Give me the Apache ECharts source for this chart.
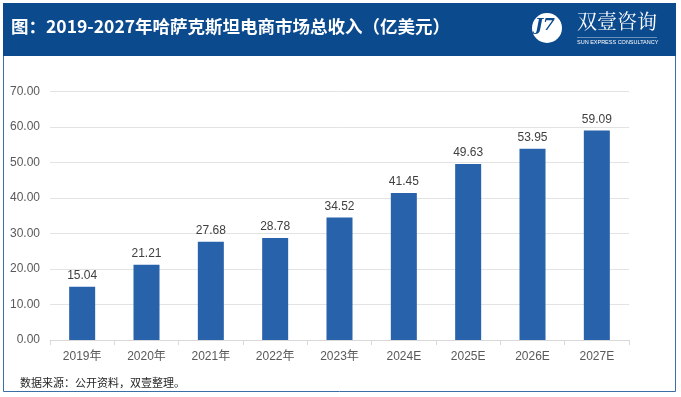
<!DOCTYPE html>
<html>
<head>
<meta charset="utf-8">
<script src="https://cdn.jsdelivr.net/npm/echarts@6/dist/echarts.min.js"></script>
<style>
  html, body { margin: 0; padding: 0; background: #fff; }
  #main { width: 681px; height: 397px; }
</style>
</head>
<body>
<div id="main"></div>
<script>
// 年份与收入（亿美元）
var years = ['2019年', '2020年', '2021年', '2022年', '2023年', '2024E', '2025E', '2026E', '2027E'];
var revenue = [15.04, 21.21, 27.68, 28.78, 34.52, 41.45, 49.63, 53.95, 59.09];

var chart = echarts.init(document.getElementById('main'));

var option = {
    animation: false,
    backgroundColor: '#fff',
    grid: {
        left: 50,
        right: 52,
        top: 91.7,
        bottom: 57
    },
    xAxis: {
        type: 'category',
        data: years,
        axisLine: { lineStyle: { color: '#d9d9d9' } },
        axisTick: { show: true, lineStyle: { color: '#d9d9d9' } },
        axisLabel: {
            color: '#595959',
            fontSize: 12,
            margin: 11,
            fontFamily: 'Liberation Sans, Noto Sans CJK SC'
        }
    },
    yAxis: {
        type: 'value',
        min: 0,
        max: 70,
        interval: 10,
        axisLine: { show: false },
        axisTick: { show: false },
        splitLine: { lineStyle: { color: '#e3e3e3' } },
        axisLabel: {
            color: '#595959',
            fontSize: 12,
            margin: 10,
            fontFamily: 'Liberation Sans',
            formatter: function (v) { return v.toFixed(2); }
        }
    },
    series: [
        {
            type: 'bar',
            data: revenue,
            barWidth: 26,
            itemStyle: { color: '#2762aa' },
            label: {
                show: true,
                position: 'top',
                distance: 5,
                color: '#404040',
                fontSize: 12,
                fontFamily: 'Liberation Sans',
                formatter: function (p) { return p.value.toFixed(2); }
            }
        }
    ],
    graphic: [
        // 外框
        {
            type: 'rect',
            shape: { x: 3.5, y: 3.5, width: 672, height: 388 },
            style: { fill: 'none', stroke: '#3b6ea5', lineWidth: 1 },
            z: 1
        },
        // 标题栏
        {
            type: 'rect',
            shape: { x: 3, y: 3, width: 673, height: 53 },
            style: { fill: '#0c4a8e' },
            z: 2
        },
        {
            type: 'text',
            left: 11,
            top: 18,
            style: {
                text: '图：2019-2027年哈萨克斯坦电商市场总收入（亿美元）',
                fill: '#fff',
                font: 'bold 17.5px "Noto Sans CJK SC"'
            },
            z: 3
        },
        // logo
        {
            type: 'circle',
            shape: { cx: 547, cy: 28, r: 15 },
            style: { fill: '#fff' },
            z: 3
        },
        {
            type: 'text',
            left: 535,
            top: 17,
            style: {
                text: 'J7',
                fill: '#0c4a8e',
                font: 'italic bold 17px "DejaVu Serif"'
            },
            z: 4
        },
        {
            type: 'text',
            left: 577,
            top: 11,
            style: {
                text: '双壹咨询',
                fill: '#fff',
                font: '20px "Noto Serif CJK SC", "Noto Sans CJK SC"'
            },
            z: 3
        },
        {
            type: 'rect',
            shape: { x: 577, y: 37, width: 80, height: 0.6 },
            style: { fill: '#c8d6ea' },
            z: 3
        },
        {
            type: 'text',
            left: 577,
            top: 39,
            style: {
                text: 'SUN EXPRESS CONSULTANCY',
                fill: '#fff',
                font: '5.5px "Liberation Sans"'
            },
            z: 3
        },
        // 数据来源
        {
            type: 'text',
            left: 20,
            top: 377,
            style: {
                text: '数据来源：公开资料，双壹整理。',
                fill: '#262626',
                font: '11px "Noto Sans CJK SC"'
            },
            z: 3
        }
    ]
};

chart.setOption(option);
</script>
</body>
</html>
